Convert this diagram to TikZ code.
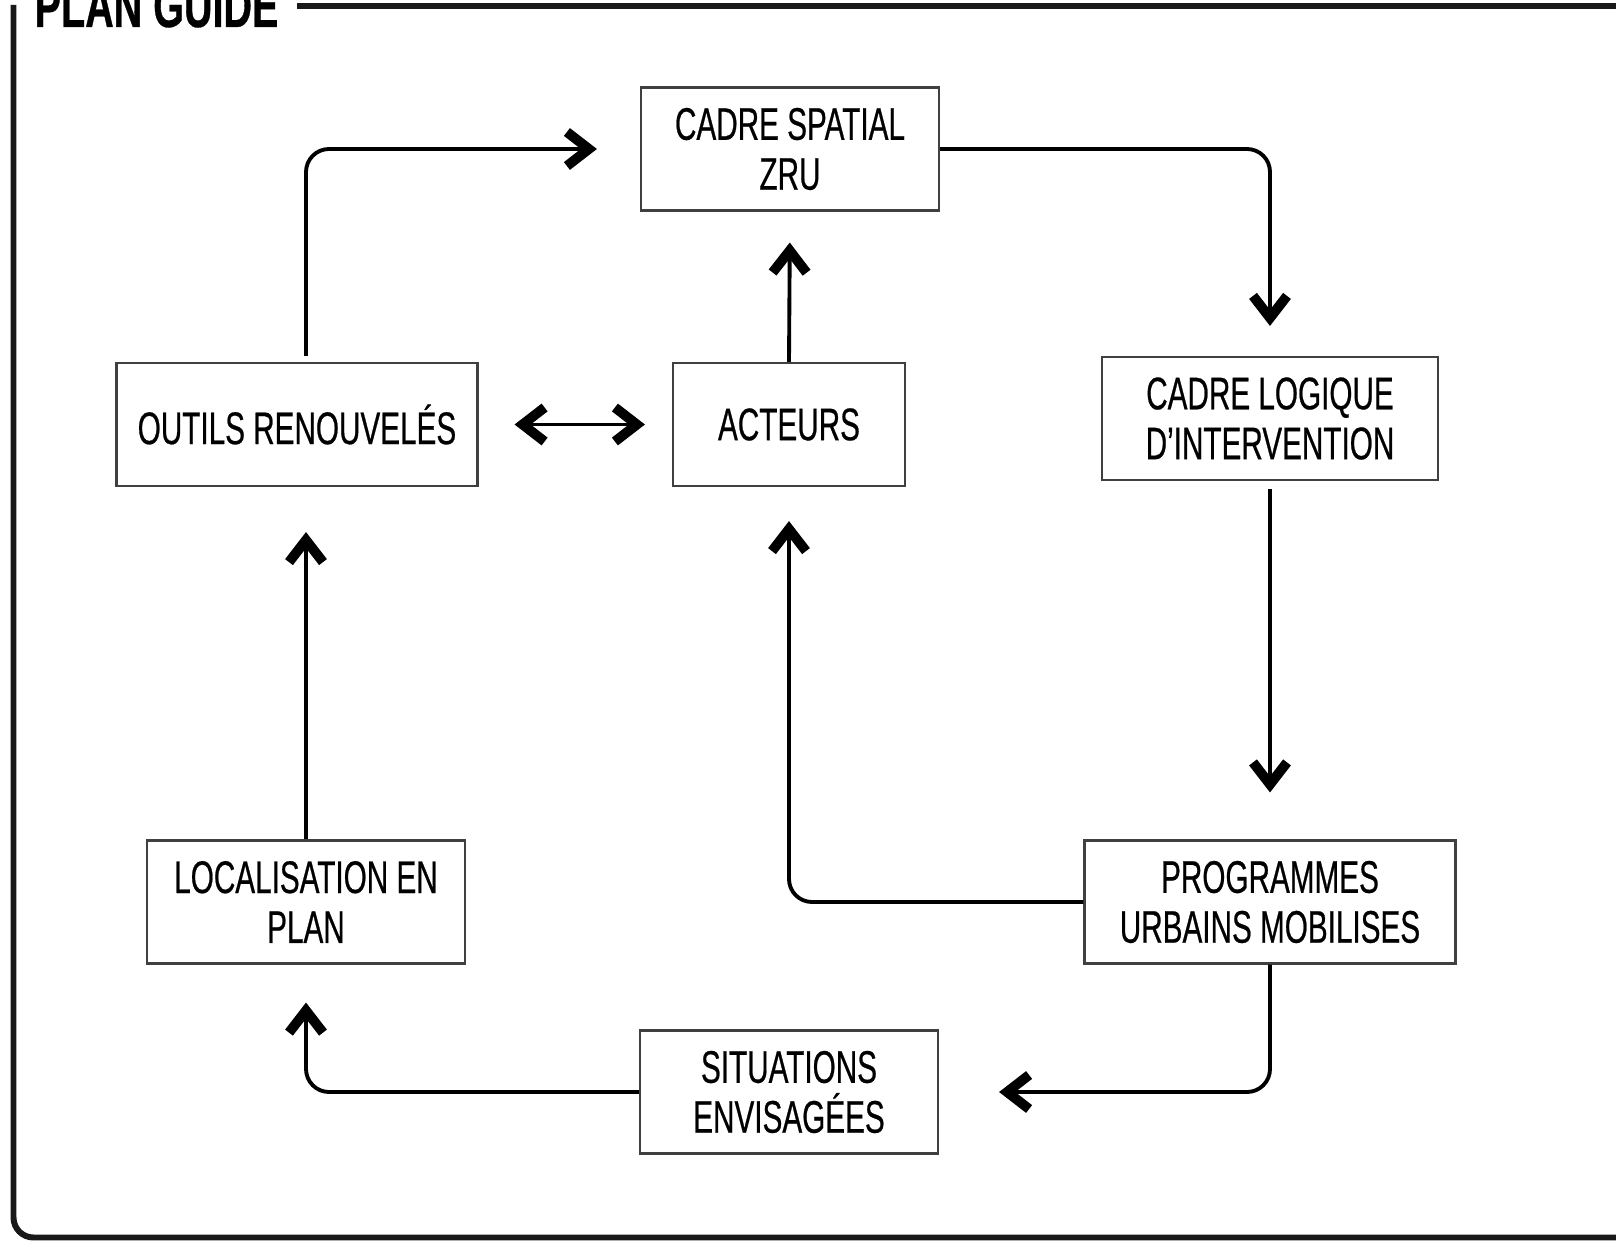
\documentclass[tikz,border=0pt]{standalone}
\usepackage{fontspec}
\setmainfont{Liberation Sans}[FakeStretch=0.65, FakeBold=0.5]
\usepackage{tikz}
\usetikzlibrary{arrows.meta,positioning,calc}

\begin{document}
\begin{tikzpicture}[
    every node/.style={font=\fontsize{13}{14.2}\selectfont},
    etape/.style={rectangle, draw=black!75, fill=white, line width=0.6pt, minimum height=1.23cm, align=center, inner sep=2pt},
    fleche/.style={-{Straight Barb[length=2.2mm, width=3.4mm, line width=2.8pt]}, line width=1.1pt},
    dfleche/.style={{Straight Barb[length=2.2mm, width=3.4mm, line width=2.8pt]}-{Straight Barb[length=2.2mm, width=3.4mm, line width=2.8pt]}, line width=1.1pt},
    cadre/.style={line width=1.7pt, black!90}
]
\useasboundingbox (0,0) rectangle (16.16,12.40);
\clip (0,0) rectangle (16.16,12.40);

% Frame and title
\node[anchor=base west, inner sep=0pt, font=\fontsize{17.3}{20}\selectfont\bfseries] (titre) at (0.34,12.13) {PLAN GUIDE};
\draw[cadre, rounded corners=2mm] (0.135,12.35) |- (16.5,0.025);
\draw[cadre] (2.97,12.34) -- (16.5,12.34);

% Steps
\node[etape, minimum width=2.98cm] (spatial) at (7.90,10.91) {CADRE SPATIAL\\ZRU};
\node[etape, minimum width=3.61cm] (outils) at (2.97,8.155) {OUTILS RENOUVELÉS};
\node[etape, minimum width=2.32cm] (acteurs) at (7.89,8.155) {ACTEURS};
\node[etape, minimum width=3.36cm] (logique) at (12.70,8.215) {CADRE LOGIQUE\\D'INTERVENTION};
\node[etape, minimum width=3.18cm] (localisation) at (3.06,3.38) {LOCALISATION EN\\PLAN};
\node[etape, minimum width=3.71cm] (programmes) at (12.70,3.38) {PROGRAMMES\\URBAINS MOBILISES};
\node[etape, minimum width=2.98cm] (situations) at (7.89,1.48) {SITUATIONS\\ENVISAGÉES};

% Cycle
\draw[fleche, rounded corners=2.3mm, shorten <=0.6mm, shorten >=4.3mm] (outils.north -| localisation.north) |- (spatial.west);
\draw[fleche, rounded corners=2.3mm, shorten >=3mm] (spatial.east) -| (logique.north);
\draw[fleche, shorten >=3.1mm] (acteurs.north) -- (spatial.south);
\draw[dfleche, shorten <=3.6mm, shorten >=2.7mm] (outils.east) -- (acteurs.west);
\draw[fleche, shorten <=0.8mm, shorten >=4.7mm] (logique.south) -- (programmes.north);
\draw[fleche, rounded corners=2.3mm, shorten >=3.4mm] (programmes.west) -| (acteurs.south);
\draw[fleche, rounded corners=2.3mm, shorten >=6mm] (programmes.south) |- (situations.east);
\draw[fleche, rounded corners=2.3mm, shorten >=3.8mm] (situations.west) -| (localisation.south);
\draw[fleche, shorten >=4.5mm] (localisation.north) -- (outils.south -| localisation.north);

\end{tikzpicture}
\end{document}
